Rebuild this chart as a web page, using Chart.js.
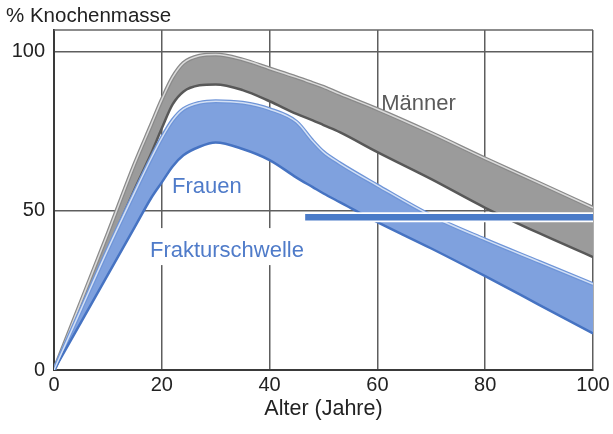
<!DOCTYPE html>
<html>
<head>
<meta charset="utf-8">
<script src="https://cdn.jsdelivr.net/npm/chart.js@4.4.1/dist/chart.umd.min.js"></script>
<style>
  html, body { margin: 0; padding: 0; background: #fff; }
  #wrap { width: 613px; height: 434px; }
</style>
</head>
<body>
<div id="wrap"><canvas id="knochenmasse"></canvas></div>
<script>
// Alter (Jahre)
const ages = [0, 5, 10, 15, 18, 20, 22, 24, 27, 30, 35, 40, 45, 48, 50, 53, 60, 70, 80, 90, 100];
// % Knochenmasse, Band Männer (oben / unten)
const menTop    = [0, 21.5, 43, 65, 77, 85, 92, 96.5, 98.8, 99.2, 97.6, 94.8, 92, 90.2, 89, 86.8, 82, 74.5, 66.5, 58.8, 51];
const menBottom = [0, 19, 38, 57, 68, 76, 83.5, 87.5, 89.5, 89.8, 88, 84.5, 80.5, 78.5, 77, 74.8, 68.5, 60, 51, 43, 35.5];
// Band Frauen (oben / unten)
const womenTop    = [0, 19, 38, 56, 66.5, 73, 78.5, 82, 84, 84.5, 84, 82, 78, 72, 68.5, 65, 58, 48.5, 41, 34, 27];
const womenBottom = [0, 15, 30, 45, 54, 59, 64, 67.5, 70.2, 71.5, 69.5, 66, 60.5, 57.5, 55.5, 52.8, 46.5, 38.2, 29.5, 20.5, 11.5];
// Frakturschwelle
const thresholdAges = [46.6, 100];
const thresholdValues = [48, 48];

const xTicks = [0, 20, 40, 60, 80, 100];
const yTicks = [0, 50, 100];

const pts = (xs, ys) => xs.map((v, i) => ({ x: v, y: ys[i] }));

const FONT = '"Liberation Sans", Arial, Helvetica, sans-serif';

const beschriftung = {
  id: 'beschriftung',
  beforeDatasetsDraw(chart) {
    const { ctx, chartArea: a, scales: { x, y } } = chart;
    ctx.save();
    ctx.strokeStyle = '#666';
    ctx.lineWidth = 1.5;
    ctx.beginPath();
    ctx.moveTo(a.left, a.top);
    ctx.lineTo(a.right, a.top);
    ctx.stroke();
    // weisser Hintergrund hinter "Frakturschwelle"
    ctx.font = '22px ' + FONT;
    const fx = x.getPixelForValue(17.8), fy = y.getPixelForValue(35.5);
    const w = ctx.measureText('Frakturschwelle').width;
    ctx.fillStyle = '#fff';
    ctx.fillRect(fx - 5, fy - 29, w + 10, 37);
    ctx.restore();
  },
  afterDatasetsDraw(chart) {
    const { ctx, scales: { x, y } } = chart;
    ctx.save();
    ctx.textBaseline = 'alphabetic';
    ctx.textAlign = 'left';
    ctx.font = '22px ' + FONT;
    ctx.fillStyle = '#5a5a5a';
    ctx.fillText('Männer', x.getPixelForValue(60.7), y.getPixelForValue(81.8));
    ctx.fillStyle = '#4f7bc9';
    ctx.fillText('Frauen', x.getPixelForValue(21.9), y.getPixelForValue(55.7));
    ctx.fillText('Frakturschwelle', x.getPixelForValue(17.8), y.getPixelForValue(35.5));
    ctx.font = '20.5px ' + FONT;
    ctx.fillStyle = '#222';
    ctx.fillText('% Knochenmasse', 6, 22);
    ctx.restore();
  }
};

const ctx = document.getElementById('knochenmasse').getContext('2d');

chart_knochenmasse = new Chart(ctx, {
  type: 'line',
  data: {
    datasets: [
      { data: pts(thresholdAges, thresholdValues), borderColor: '#4a7bc8', borderWidth: 6.5, borderCapStyle: 'butt' },
      { data: pts(thresholdAges, thresholdValues), borderColor: '#ffffff', borderWidth: 10, borderCapStyle: 'butt' },
      // Frauen
      { data: pts(ages, womenTop), borderColor: '#d3e0f5', borderWidth: 1.5 },
      { data: pts(ages, womenBottom), borderColor: '#4673c2', borderWidth: 2.5 },
      { data: pts(ages, womenTop), borderColor: '#6f95d8', borderWidth: 4, fill: 3, backgroundColor: '#7fa1de' },
      // Männer
      { data: pts(ages, menTop), borderColor: '#dadada', borderWidth: 1.5 },
      { data: pts(ages, menBottom), borderColor: '#585858', borderWidth: 2.5 },
      { data: pts(ages, menTop), borderColor: '#8a8a8a', borderWidth: 4, fill: 6, backgroundColor: '#9b9b9b' }
    ]
  },
  options: {
    responsive: true,
    maintainAspectRatio: false,
    animation: false,
    layout: { padding: { top: 30, right: 20, bottom: 0, left: 0 } },
    elements: {
      point: { radius: 0 },
      line: { cubicInterpolationMode: 'monotone', fill: false }
    },
    plugins: {
      legend: { display: false },
      tooltip: { enabled: false }
    },
    scales: {
      x: {
        type: 'linear',
        min: 0,
        max: 100,
        afterBuildTicks: s => { s.ticks = xTicks.map(v => ({ value: v })); },
        afterFit: s => { s.height = 64; },
        grid: { color: '#5e5e5e', lineWidth: 1.5, drawTicks: false },
        border: { color: '#3a3a3a', width: 2 },
        ticks: { color: '#222', padding: 3, font: { size: 20, family: FONT } },
        title: {
          display: true,
          text: 'Alter (Jahre)',
          color: '#222',
          font: { size: 21.5, family: FONT },
          padding: { top: 0, bottom: 12 }
        }
      },
      y: {
        min: 0,
        max: 106.9,
        afterBuildTicks: s => { s.ticks = yTicks.map(v => ({ value: v })); },
        afterFit: s => { s.width = 54; },
        grid: { color: '#5e5e5e', lineWidth: 1.5, drawTicks: false },
        border: { color: '#3a3a3a', width: 2 },
        ticks: { color: '#222', padding: 9, font: { size: 20, family: FONT } }
      }
    }
  },
  plugins: [beschriftung]
});
</script>
</body>
</html>
